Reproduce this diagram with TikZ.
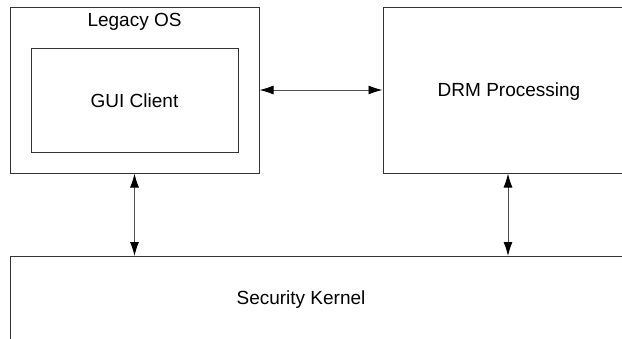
\documentclass[tikz,border=0pt]{standalone}
\usepackage{fontspec}
\setmainfont{Liberation Sans}
\usetikzlibrary{arrows.meta}
\definecolor{edge}{HTML}{333333}
\definecolor{wire}{HTML}{505050}
\tikzset{
  block/.style={draw=edge, line width=1pt, rectangle, inner sep=0pt},
  label/.style={font=\fontsize{19}{22}\selectfont, text=black, inner sep=0pt},
  tip/.style={Latex[length=14pt,width=9pt,color=black]},
  link/.style={draw=wire, line width=0.9pt, {Latex[length=14pt,width=9pt,color=black]}-{Latex[length=14pt,width=9pt,color=black]}},
}
\begin{document}
\begin{tikzpicture}[x=1pt,y=-1pt]
  \useasboundingbox (0,0) rectangle (622,338);
  \clip (0,0) rectangle (622,338);
  % outer OS box and the client inside it
  \node[block, minimum width=249pt, minimum height=166pt] (legacy) at (134.5,90) {};
  \node[label] (legacyt) at (134.5,22) {Legacy OS};
  \node[block, minimum width=207pt, minimum height=104pt] (gui) at (134.5,100) {};
  \node[label] (guit) at (134.5,101) {GUI Client};
  % DRM box, running past the right edge
  \node[block, minimum width=252pt, minimum height=166pt] (drm) at (509,90) {};
  \node[label] (drmt) at (509,92) {DRM Processing};
  % kernel box, running past the right and bottom edges
  \node[block, minimum width=620pt, minimum height=140pt, anchor=north west] (kernel) at (10,256) {};
  \node[label] (kernelt) at (301,300) {Security Kernel};
  % connectors
  \draw[link] (legacy.east) -- (drm.west);
  \draw[link] (legacy.south) -- (legacy.south |- kernel.north);
  \draw[link] ([xshift=-1pt]drm.south) -- ([xshift=-1pt]drm.south |- kernel.north);
\end{tikzpicture}
\end{document}
